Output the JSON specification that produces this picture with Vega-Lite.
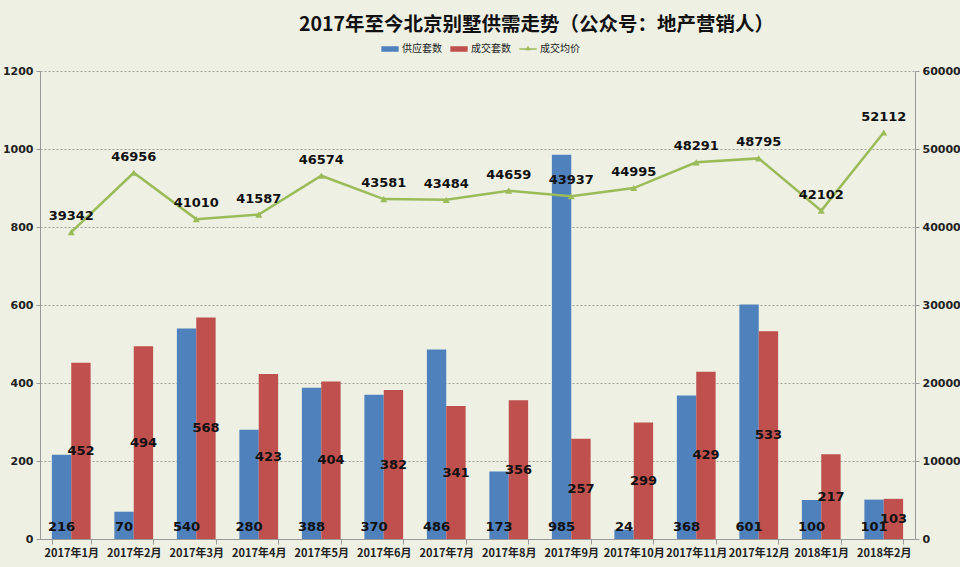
{
  "$schema": "https://vega.github.io/schema/vega-lite/v6.json",
  "width": 875,
  "height": 468,
  "autosize": {"type": "none"},
  "padding": {"left": 40, "top": 71, "right": 45, "bottom": 28},
  "background": "#EDF0E3",
  "title": {
    "text": "2017年至今北京别墅供需走势（公众号：地产营销人）",
    "font": "Noto Sans CJK SC",
    "fontSize": 19.5,
    "fontWeight": "bold",
    "color": "#111111",
    "anchor": "middle",
    "dx": 59,
    "offset": 5
  },
  "config": {
    "view": {"stroke": null},
    "axis": {
      "labelFont": "DejaVu Sans",
      "labelFontWeight": "bold",
      "labelFontSize": 11,
      "labelColor": "#222222",
      "domainColor": "#999999",
      "tickColor": "#999999",
      "title": null
    }
  },
  "data": {
    "values": [
      {"month": "2017年1月", "供应套数": 216, "成交套数": 452, "price": 39342},
      {"month": "2017年2月", "供应套数": 70, "成交套数": 494, "price": 46956},
      {"month": "2017年3月", "供应套数": 540, "成交套数": 568, "price": 41010},
      {"month": "2017年4月", "供应套数": 280, "成交套数": 423, "price": 41587},
      {"month": "2017年5月", "供应套数": 388, "成交套数": 404, "price": 46574},
      {"month": "2017年6月", "供应套数": 370, "成交套数": 382, "price": 43581},
      {"month": "2017年7月", "供应套数": 486, "成交套数": 341, "price": 43484},
      {"month": "2017年8月", "供应套数": 173, "成交套数": 356, "price": 44659},
      {"month": "2017年9月", "供应套数": 985, "成交套数": 257, "price": 43937},
      {"month": "2017年10月", "供应套数": 24, "成交套数": 299, "price": 44995},
      {"month": "2017年11月", "供应套数": 368, "成交套数": 429, "price": 48291},
      {"month": "2017年12月", "供应套数": 601, "成交套数": 533, "price": 48795},
      {"month": "2018年1月", "供应套数": 100, "成交套数": 217, "price": 42102},
      {"month": "2018年2月", "供应套数": 101, "成交套数": 103, "price": 52112}
    ]
  },
  "encoding": {
    "x": {
      "field": "month",
      "type": "nominal",
      "sort": null,
      "scale": {"paddingInner": 0.38, "paddingOuter": 0.19},
      "axis": {
        "labelAngle": 0,
        "labelFont": "Noto Sans CJK SC",
        "labelFontSize": 11,
        "labelPadding": 3,
        "tickBand": "extent",
        "tickSize": 5,
        "domainColor": "#999999"
      }
    }
  },
  "layer": [
    {
      "transform": [
        {"fold": ["供应套数", "成交套数"], "as": ["series", "value"]},
        {"calculate": "datum.value / 2", "as": "mid"}
      ],
      "layer": [
        {
          "mark": {"type": "bar"},
          "encoding": {
            "xOffset": {"field": "series", "type": "nominal", "sort": ["供应套数", "成交套数"], "scale": {"paddingInner": 0}},
            "y": {
              "field": "value",
              "type": "quantitative",
              "scale": {"domain": [0, 1200]},
              "axis": {
                "values": [0, 200, 400, 600, 800, 1000, 1200],
                "format": "d",
                "grid": true,
                "gridColor": "#8A8A8A",
                "gridDash": [2, 2],
                "gridWidth": 0.8,
                "tickSize": 4,
                "labelPadding": 3
              }
            },
            "color": {
              "field": "series",
              "type": "nominal",
              "scale": {
                "domain": ["供应套数", "成交套数", "成交均价"],
                "range": ["#4F81BD", "#C0504D", "#9BBB59"]
              },
              "legend": {
                "orient": "none",
                "legendX": 341,
                "legendY": -31,
                "direction": "horizontal",
                "title": null,
                "labelFont": "Noto Sans CJK SC",
                "labelFontSize": 10,
                "labelColor": "#222222",
                "labelOffset": 3,
                "symbolSize": 300,
                "columnPadding": 8,
                "encode": {
                  "symbols": {
                    "update": {
                      "fill": {"scale": "color", "field": "value"},
                      "stroke": {"value": "transparent"},
                      "strokeWidth": {"value": 0},
                      "shape": {"signal": "datum.value === '成交均价' ? 'M-1,-0.08H1V0.08H-1Z M-0.32,0.14L0,-0.38L0.32,0.14Z' : 'M-1,-0.32H1V0.32H-1Z'"}
                    }
                  }
                }
              }
            }
          }
        },
        {
          "transform": [{"filter": "datum.series === '供应套数'"}],
          "mark": {"type": "text", "baseline": "bottom", "dy": -5, "font": "DejaVu Sans", "fontWeight": "bold", "fontSize": 13, "color": "#111111"},
          "encoding": {
            "xOffset": {"field": "series", "type": "nominal", "sort": ["供应套数", "成交套数"], "scale": {"domain": ["供应套数", "成交套数"]}},
            "y": {"datum": 0, "type": "quantitative"},
            "text": {"field": "value", "type": "quantitative"}
          }
        },
        {
          "transform": [{"filter": "datum.series === '成交套数'"}],
          "mark": {"type": "text", "baseline": "middle", "font": "DejaVu Sans", "fontWeight": "bold", "fontSize": 13, "color": "#111111"},
          "encoding": {
            "xOffset": {"field": "series", "type": "nominal", "sort": ["供应套数", "成交套数"], "scale": {"domain": ["供应套数", "成交套数"]}},
            "y": {"field": "mid", "type": "quantitative"},
            "text": {"field": "value", "type": "quantitative"}
          }
        }
      ]
    },
    {
      "transform": [{"calculate": "'成交均价'", "as": "series"}],
      "layer": [
        {
          "mark": {"type": "line", "strokeWidth": 2.5, "point": {"shape": "triangle-up", "size": 50, "filled": true}},
          "encoding": {
            "y": {
              "field": "price",
              "type": "quantitative",
              "scale": {"domain": [0, 60000]},
              "axis": {
                "orient": "right",
                "values": [0, 10000, 20000, 30000, 40000, 50000, 60000],
                "format": "d",
                "grid": false,
                "tickSize": 4,
                "labelPadding": 3
              }
            },
            "color": {"field": "series", "type": "nominal", "legend": null}
          }
        },
        {
          "mark": {"type": "text", "baseline": "bottom", "dy": -9, "font": "DejaVu Sans", "fontWeight": "bold", "fontSize": 13, "color": "#111111"},
          "encoding": {
            "y": {"field": "price", "type": "quantitative"},
            "text": {"field": "price", "type": "quantitative", "format": "d"}
          }
        }
      ]
    }
  ],
  "resolve": {"scale": {"y": "independent"}}
}
